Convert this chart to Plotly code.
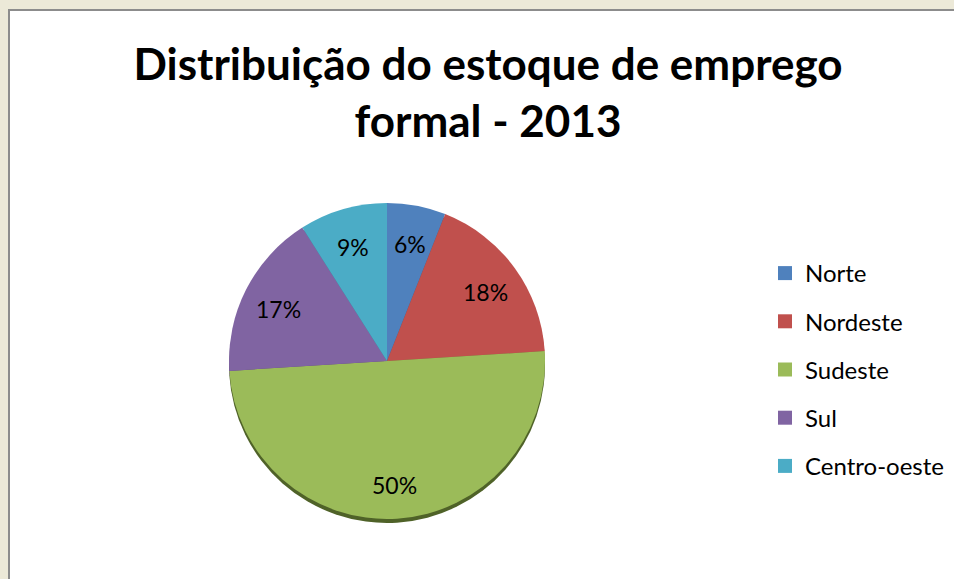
import math
import plotly.graph_objects as go

regions = ["Norte", "Nordeste", "Sudeste", "Sul", "Centro-oeste"]
shares = [6, 18, 50, 17, 9]
colors = ["#4F81BD", "#C0504D", "#9BBB59", "#8064A2", "#4BACC6"]
rim_colors = ["#3A5F8C", "#8E3B39", "#4F6228", "#5E4A78", "#377F93"]
title_text = "Distribuição do estoque de emprego<br>formal - 2013"

W, H = 954, 579
FONT = "Lato"

fig = go.Figure()

# pie center ~ (387, 362), radius ~158
cx, cy, r = 387, 361, 158
rim = 4


def dom(dy=0):
    return dict(x=[(cx - r) / W, (cx + r) / W],
                y=[1 - (cy + dy + r) / H, 1 - (cy + dy - r) / H])


# 3D-like rim underneath
fig.add_trace(go.Pie(
    labels=regions, values=shares, sort=False, direction="clockwise", rotation=0,
    marker=dict(colors=rim_colors, line=dict(width=0)),
    textinfo="none", domain=dom(rim), showlegend=False, hoverinfo="skip",
))
fig.add_trace(go.Pie(
    labels=regions, values=shares, sort=False, direction="clockwise", rotation=0,
    marker=dict(colors=colors, line=dict(width=0)),
    textinfo="none", domain=dom(0), showlegend=False, hoverinfo="label+percent",
))

# percentage labels, placed along each slice's mid-angle
total = sum(shares)
annotations = []
cum = 0
for v in shares:
    mid = (cum + v / 2) / total * 2 * math.pi
    cum += v
    rr = 0.77 * r
    px = cx + rr * math.sin(mid)
    py = cy - rr * math.cos(mid) + 3
    annotations.append(dict(
        text=f"{round(v / total * 100)}%", x=px / W, y=1 - py / H, xref="paper", yref="paper",
        showarrow=False, font=dict(family=FONT, size=23, color="black"),
        xanchor="center", yanchor="middle",
    ))

for name, col in zip(regions, colors):
    fig.add_trace(go.Scatter(
        x=[None], y=[None], mode="markers", name=name, legendgroup=name,
        marker=dict(symbol="square", size=14, color=col),
    ))

fig.update_layout(
    width=W, height=H,
    margin=dict(l=0, r=0, t=0, b=0),
    paper_bgcolor="#ECE9D8", plot_bgcolor="rgba(0,0,0,0)",
    xaxis=dict(visible=False), yaxis=dict(visible=False),
    title=dict(text=title_text, x=488 / W, xanchor="center", y=1 - 80 / H, yanchor="top",
               font=dict(family=FONT, size=44, color="black", weight="bold")),
    legend=dict(x=765 / W, y=1 - 251 / H, xanchor="left", yanchor="top",
                font=dict(family=FONT, size=24, color="black"),
                tracegroupgap=14, bgcolor="rgba(0,0,0,0)", itemwidth=30),
    annotations=annotations,
    shapes=[dict(type="rect", xref="paper", yref="paper", x0=9 / W, x1=1.2, y0=-0.2, y1=1 - 10 / H,
                 fillcolor="white", line=dict(color="#8C8C8C", width=2), layer="below")],
)

fig.write_html("out.html")
